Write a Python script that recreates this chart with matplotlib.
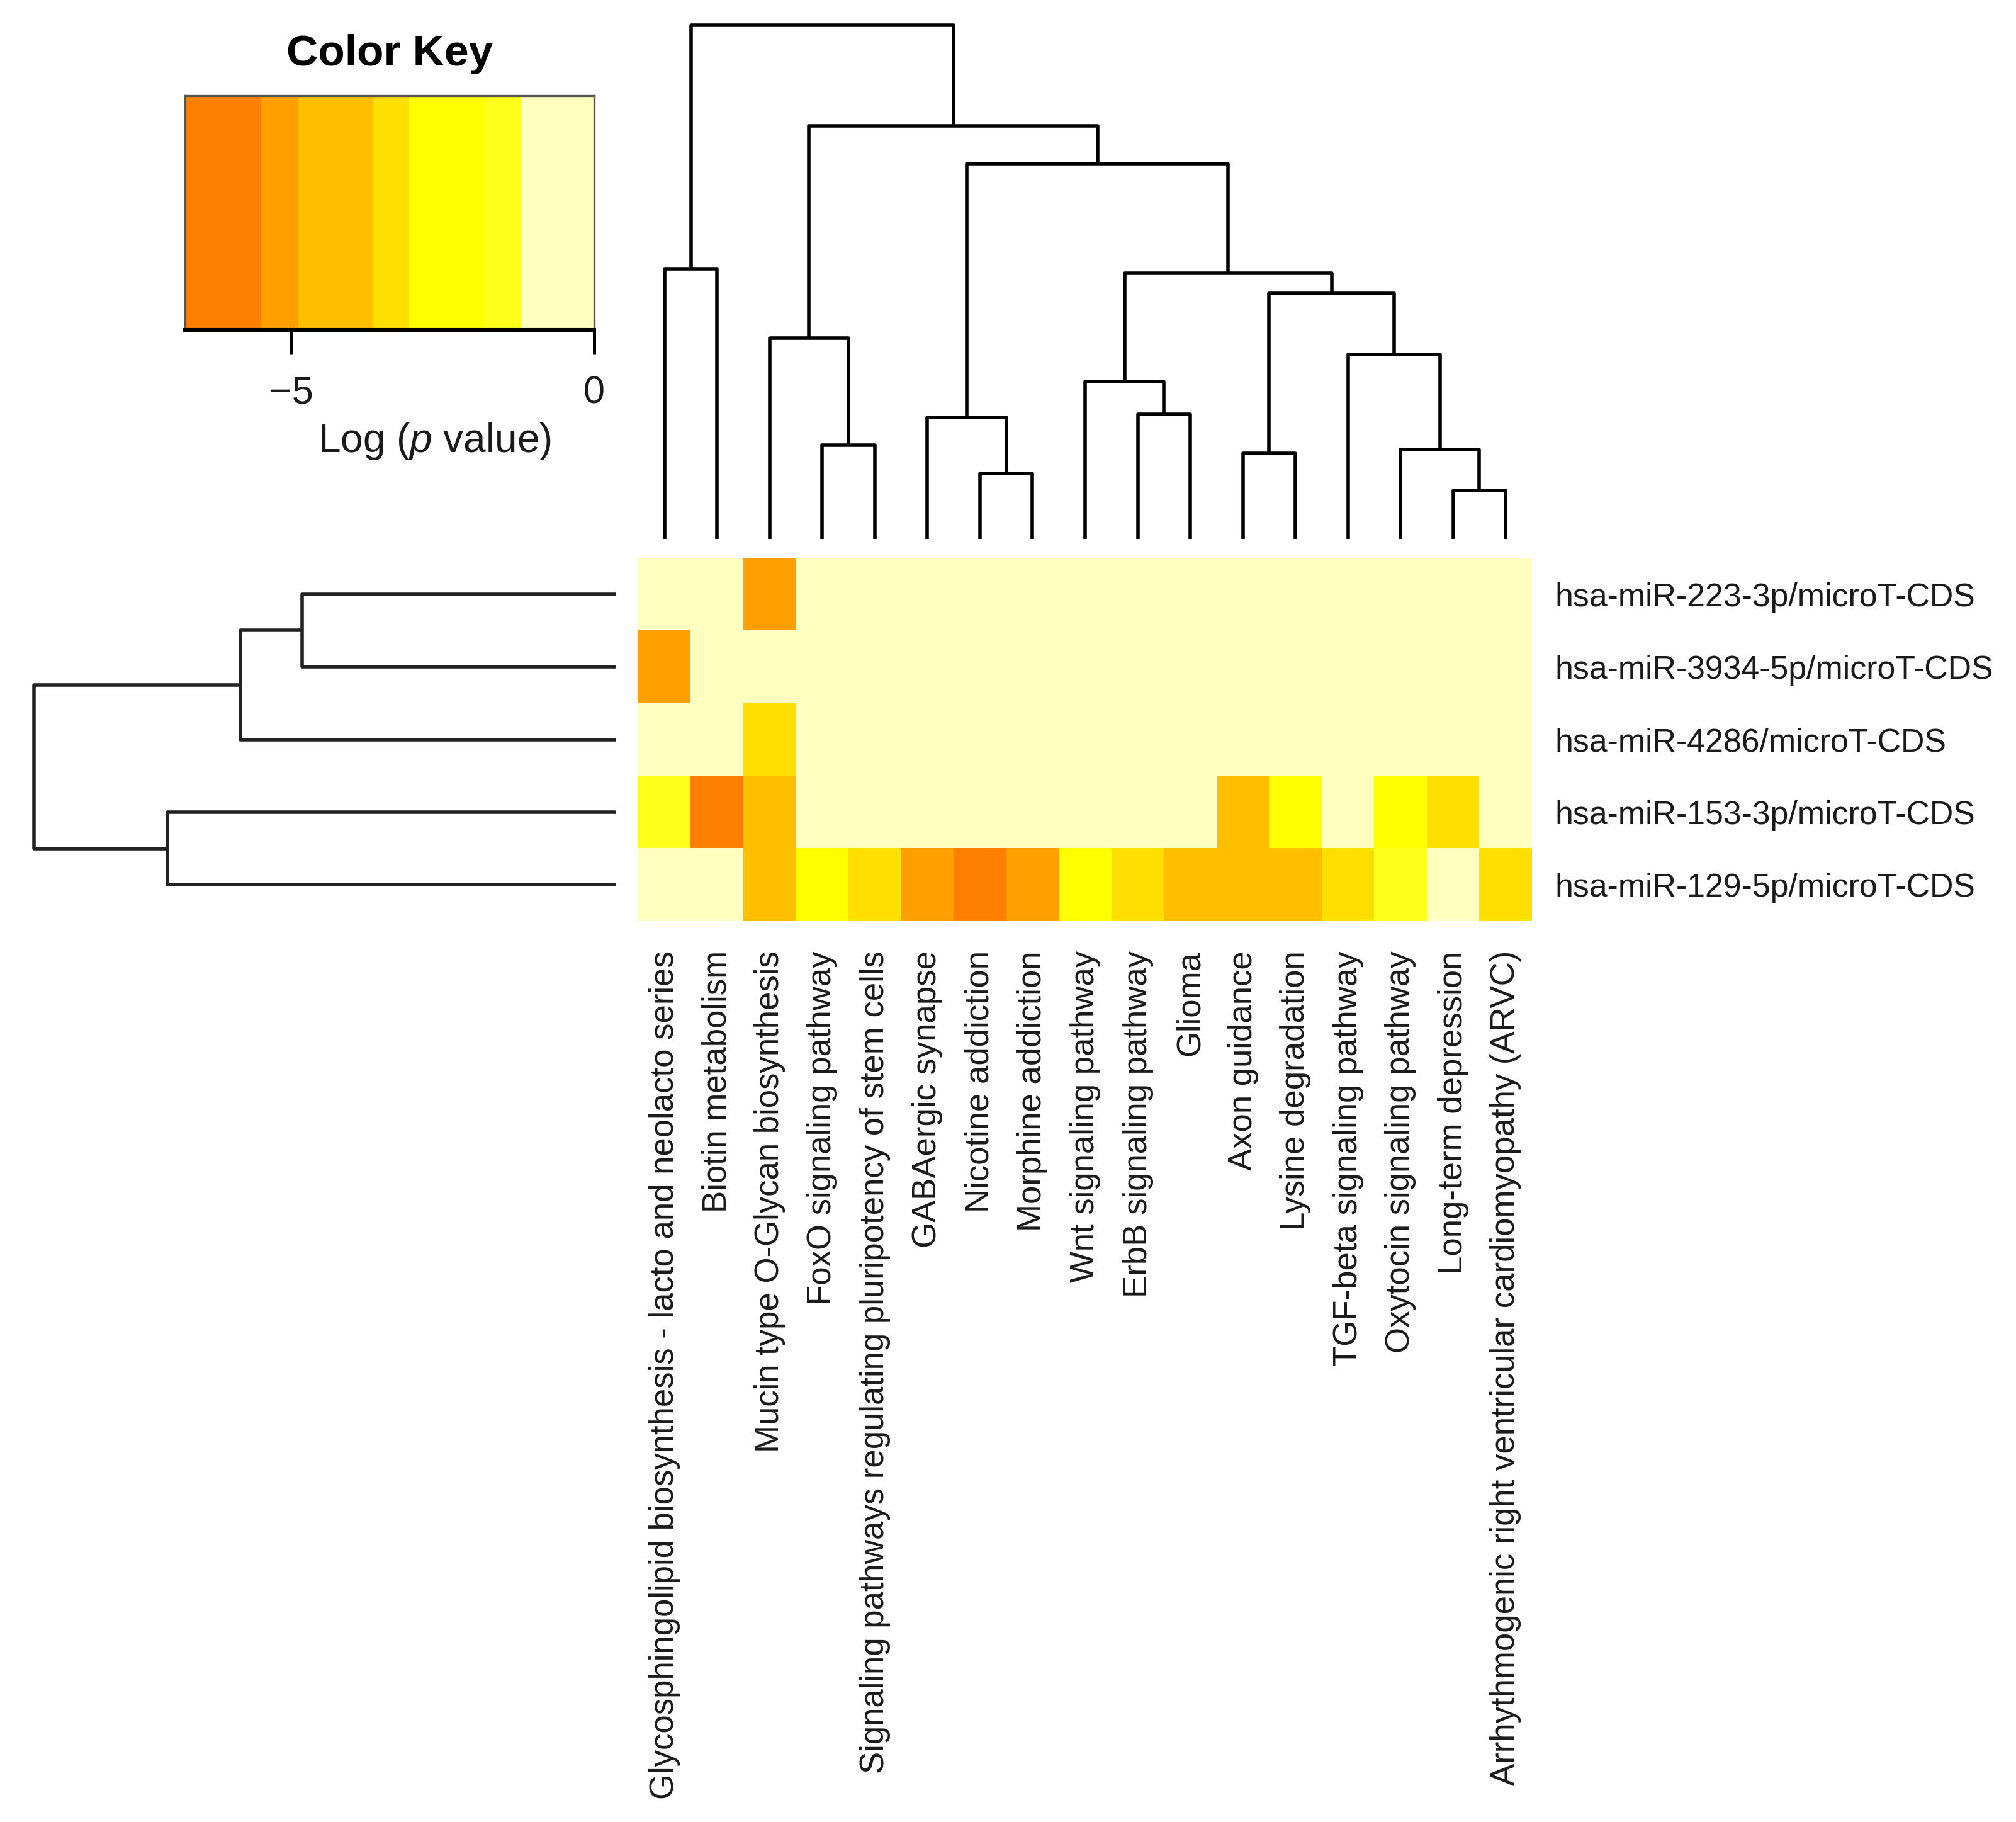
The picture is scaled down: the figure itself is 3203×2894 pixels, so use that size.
import matplotlib

matplotlib.use("Agg")
import matplotlib.pyplot as plt
import numpy as np
from matplotlib.colors import BoundaryNorm, ListedColormap

plt.rcParams["font.family"] = ["Liberation Sans", "DejaVu Sans"]
plt.rcParams["mathtext.fontset"] = "custom"
plt.rcParams["mathtext.rm"] = "Liberation Sans"
plt.rcParams["mathtext.it"] = "Liberation Sans:italic"

W, H, DPI = 3203, 2894, 200

pathways = [
    "Glycosphingolipid biosynthesis - lacto and neolacto series",
    "Biotin metabolism",
    "Mucin type O-Glycan biosynthesis",
    "FoxO signaling pathway",
    "Signaling pathways regulating pluripotency of stem cells",
    "GABAergic synapse",
    "Nicotine addiction",
    "Morphine addiction",
    "Wnt signaling pathway",
    "ErbB signaling pathway",
    "Glioma",
    "Axon guidance",
    "Lysine degradation",
    "TGF-beta signaling pathway",
    "Oxytocin signaling pathway",
    "Long-term depression",
    "Arrhythmogenic right ventricular cardiomyopathy (ARVC)",
]
mirnas = [
    "hsa-miR-223-3p/microT-CDS",
    "hsa-miR-3934-5p/microT-CDS",
    "hsa-miR-4286/microT-CDS",
    "hsa-miR-153-3p/microT-CDS",
    "hsa-miR-129-5p/microT-CDS",
]

# log(p value) per cell, rows follow mirnas, columns follow pathways
log_p = np.array([
    [0.0, 0.0, -5.2, 0.0, 0.0, 0.0, 0.0, 0.0, 0.0, 0.0, 0.0, 0.0, 0.0, 0.0, 0.0, 0.0, 0.0],
    [-5.2, 0.0, 0.0, 0.0, 0.0, 0.0, 0.0, 0.0, 0.0, 0.0, 0.0, 0.0, 0.0, 0.0, 0.0, 0.0, 0.0],
    [0.0, 0.0, -3.4, 0.0, 0.0, 0.0, 0.0, 0.0, 0.0, 0.0, 0.0, 0.0, 0.0, 0.0, 0.0, 0.0, 0.0],
    [-1.5, -6.0, -4.3, 0.0, 0.0, 0.0, 0.0, 0.0, 0.0, 0.0, 0.0, -4.3, -2.5, 0.0, -2.5, -3.4, 0.0],
    [0.0, 0.0, -4.3, -2.5, -3.4, -5.2, -6.0, -5.2, -2.5, -3.4, -4.3, -4.3, -4.3, -3.4, -1.5, 0.0, -3.4],
])

key_breaks = [-6.76, -5.51, -4.9, -3.67, -3.06, -1.82, -1.22, 0.0]
key_colors = ["#FF8000", "#FFA000", "#FFBF00", "#FFDF00", "#FFFF00", "#FFFF1C", "#FFFFBF"]

# dendrogram merges: (child a, child b, height); new node ids continue after the leaves
col_merges = [
    (0, 1, 211), (3, 4, 73), (2, 18, 157), (6, 7, 51), (5, 20, 95),
    (9, 10, 97.5), (8, 22, 123), (11, 12, 67), (15, 16, 38), (14, 25, 70),
    (13, 26, 144), (24, 27, 191.5), (23, 28, 207.5), (21, 29, 293),
    (19, 30, 322.3), (17, 31, 401),
]
row_merges = [(0, 1, 244), (5, 2, 291.7), (3, 4, 348.6), (6, 7, 452.4)]


def draw_dendrogram(ax, n_leaves, merges, orientation):
    pos = {i: float(i) for i in range(n_leaves)}
    hgt = {i: 0.0 for i in range(n_leaves)}
    for k, (a, b, h) in enumerate(merges):
        node = n_leaves + k
        pa, pb = pos[a], pos[b]
        xs = [pa, pa, pb, pb]
        ys = [hgt[a], h, h, hgt[b]]
        if orientation == "top":
            ax.plot(xs, ys, color="black", lw=2.0, solid_capstyle="butt", clip_on=False)
        else:
            ax.plot(ys, xs, color="#222222", lw=2.0, solid_capstyle="butt", clip_on=False)
        pos[node] = (pa + pb) / 2
        hgt[node] = h
    ax.set_axis_off()


fig = plt.figure(figsize=(W / DPI, H / DPI), dpi=DPI)


def frac(x0, y0, x1, y1):
    return [x0 / W, 1 - y1 / H, (x1 - x0) / W, (y1 - y0) / H]


cmap = ListedColormap(key_colors)
norm = BoundaryNorm(key_breaks, cmap.N)

# heatmap
ax_hm = fig.add_axes(frac(1014, 886, 2434, 1463))
ax_hm.imshow(log_p, cmap=cmap, norm=norm, aspect="auto", interpolation="nearest")
ax_hm.set_xticks(range(len(pathways)))
ax_hm.set_xticklabels(pathways, rotation=90, fontsize=19, color="#1a1a1a")
ax_hm.set_yticks(range(len(mirnas)))
ax_hm.set_yticklabels(mirnas, fontsize=18.7, color="#1a1a1a")
ax_hm.yaxis.tick_right()
ax_hm.tick_params(axis="x", length=0, pad=17)
ax_hm.tick_params(axis="y", length=0, pad=13)
for s in ax_hm.spines.values():
    s.set_visible(False)

# column dendrogram
ax_cd = fig.add_axes(frac(1014, 40, 2434, 856))
draw_dendrogram(ax_cd, len(pathways), col_merges, "top")
ax_cd.set_xlim(-0.5, len(pathways) - 0.5)
ax_cd.set_ylim(0, 401)

# row dendrogram
ax_rd = fig.add_axes(frac(54, 886, 978, 1463))
draw_dendrogram(ax_rd, len(mirnas), row_merges, "left")
ax_rd.set_ylim(len(mirnas) - 0.5, -0.5)
ax_rd.set_xlim(452.4, 0)

# color key
ax_key = fig.add_axes(frac(294, 152, 944, 524))
grad = np.linspace(key_breaks[0], key_breaks[-1], 700)
ax_key.pcolormesh(grad, [0, 1], grad[np.newaxis, :-1], cmap=cmap, norm=norm, shading="flat")
ax_key.set_xlim(key_breaks[0], key_breaks[-1])
ax_key.set_ylim(0, 1)
ax_key.set_yticks([])
ax_key.set_xticks([-5, 0])
ax_key.set_xticklabels(["\u22125", "0"], fontsize=22, color="#1a1a1a")
ax_key.tick_params(axis="x", length=14, width=1.8, pad=12)
for name, s in ax_key.spines.items():
    s.set_linewidth(2.2 if name == "bottom" else 1.2)
    s.set_color("black" if name == "bottom" else "#555555")

fig.text(619 / W, 1 - 86 / H, "Color Key", fontsize=25, fontweight="bold",
         ha="center", va="center")
fig.text(690 / W, 1 - 701 / H, r"Log ($\mathit{p}$ value)", fontsize=23,
         ha="center", va="center", color="#1a1a1a")

fig.savefig("out.png", dpi=DPI, facecolor="white")
